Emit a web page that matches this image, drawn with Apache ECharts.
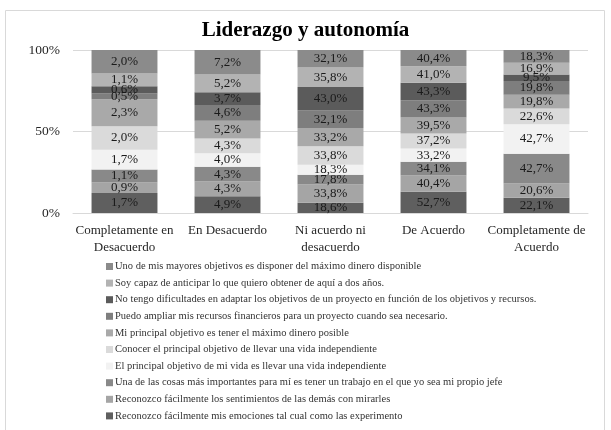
<!DOCTYPE html>
<html>
<head>
<meta charset="utf-8">
<script src="https://cdn.jsdelivr.net/npm/echarts@6/dist/echarts.min.js"></script>
<style>
  html, body { margin: 0; padding: 0; background: #fff; }
  #chart { width: 611px; height: 430px; }
</style>
</head>
<body>
<div id="chart"></div>
<script>
//  categorías (eje x)
const categories = ['Completamente en\nDesacuerdo', 'En Desacuerdo', 'Ni acuerdo ni\ndesacuerdo', 'De Acuerdo', 'Completamente de\nAcuerdo'];
//  nombres de las series, de abajo hacia arriba
const seriesNames = [
    'Reconozco fácilmente mis emociones tal cual como las experimento',
    'Reconozco fácilmente los sentimientos de las demás con mirarles',
    'Una de las cosas más importantes para mí es tener un trabajo en el que yo sea mi propio jefe',
    'El principal objetivo de mi vida es llevar una vida independiente',
    'Conocer el principal objetivo de llevar una vida independiente',
    'Mi principal objetivo es tener el máximo dinero posible',
    'Puedo ampliar mis recursos financieros para un proyecto cuando sea necesario.',
    'No tengo dificultades en adaptar los objetivos de un proyecto en función de los objetivos y recursos.',
    'Soy capaz de anticipar lo que quiero obtener de aquí a dos años.',
    'Uno de mis mayores objetivos es disponer del máximo dinero disponible'
];
//  valores (%), mismo orden que seriesNames
const emociones = [1.7, 4.9, 18.6, 52.7, 22.1];
const sentimientos = [0.9, 4.3, 33.8, 40.4, 20.6];
const propioJefe = [1.1, 4.3, 17.8, 34.1, 42.7];
const vidaIndependiente = [1.7, 4.0, 18.3, 33.2, 42.7];
const conocerObjetivo = [2.0, 4.3, 33.8, 37.2, 22.6];
const maximoDinero = [2.3, 5.2, 33.2, 39.5, 19.8];
const ampliarRecursos = [0.5, 4.6, 32.1, 43.3, 19.8];
const adaptarObjetivos = [0.6, 3.7, 43.0, 43.3, 9.5];
const anticipar = [1.1, 5.2, 35.8, 41.0, 16.9];
const dineroDisponible = [2.0, 7.2, 32.1, 40.4, 18.3];
const seriesValues = [emociones, sentimientos, propioJefe, vidaIndependiente, conocerObjetivo,
    maximoDinero, ampliarRecursos, adaptarObjetivos, anticipar, dineroDisponible];
//  marcas del eje y
const yTicks = [0, 50, 100];

const colorConfig = ['#5f5f5f', '#a5a5a5', '#898989', '#f2f2f2', '#dadada',
    '#a9a9a9', '#7e7e7e', '#5b5b5b', '#b3b3b3', '#8b8b8b'];
const font = '"Liberation Serif", "DejaVu Serif", serif';

//  totales por categoría para apilar al 100%
const totals = categories.map((c, i) => seriesValues.reduce((s, arr) => s + arr[i], 0));

const option = {
    animation: false,
    color: colorConfig,
    title: {
        text: 'Liderazgo y autonomía',
        left: 'center',
        top: 15,
        textStyle: {fontFamily: font, fontSize: 21, fontWeight: 'bold', color: '#000'}
    },
    graphic: [{
        type: 'rect',
        shape: {x: 5.5, y: 10.5, width: 599, height: 430},
        style: {fill: 'none', stroke: '#d9d9d9', lineWidth: 1}
    }],
    legend: {
        orient: 'vertical',
        left: 106,
        top: 261,
        padding: 0,
        icon: 'rect',
        itemWidth: 7,
        itemHeight: 7,
        itemGap: 5.6,
        selectedMode: false,
        data: seriesNames.slice().reverse(),
        textStyle: {fontFamily: font, fontSize: 10.5, lineHeight: 11, color: '#333', padding: [0, 0, 0, -3]}
    },
    grid: {left: 73, right: 23, top: 50, bottom: 217},
    xAxis: {
        type: 'category',
        data: categories,
        axisLine: {lineStyle: {color: '#d9d9d9', width: 1}},
        axisTick: {show: false},
        axisLabel: {
            interval: 0,
            margin: 9,
            fontFamily: font,
            fontSize: 13,
            lineHeight: 17,
            color: '#262626'
        }
    },
    yAxis: {
        type: 'value',
        min: 0,
        max: 100,
        interval: 50,
        axisLine: {show: false},
        axisTick: {show: false},
        splitLine: {lineStyle: {color: '#d9d9d9', width: 1}},
        axisLabel: {
            margin: 13,
            fontFamily: font,
            fontSize: 13.5,
            color: '#262626',
            formatter: v => yTicks.indexOf(v) >= 0 ? v + '%' : ''
        }
    },
    series: seriesNames.map((name, k) => ({
        name: name,
        type: 'bar',
        stack: 'total',
        barWidth: '64%',
        data: seriesValues[k].map((v, i) => ({value: v / totals[i] * 100, raw: v})),
        label: {
            show: true,
            position: 'inside',
            fontFamily: font,
            fontSize: 13,
            color: '#1a1a1a',
            formatter: p => p.data.raw.toFixed(1).replace('.', ',') + '%'
        }
    }))
};

const myChart = echarts.init(document.getElementById('chart'));
myChart.setOption(option);
</script>
</body>
</html>
